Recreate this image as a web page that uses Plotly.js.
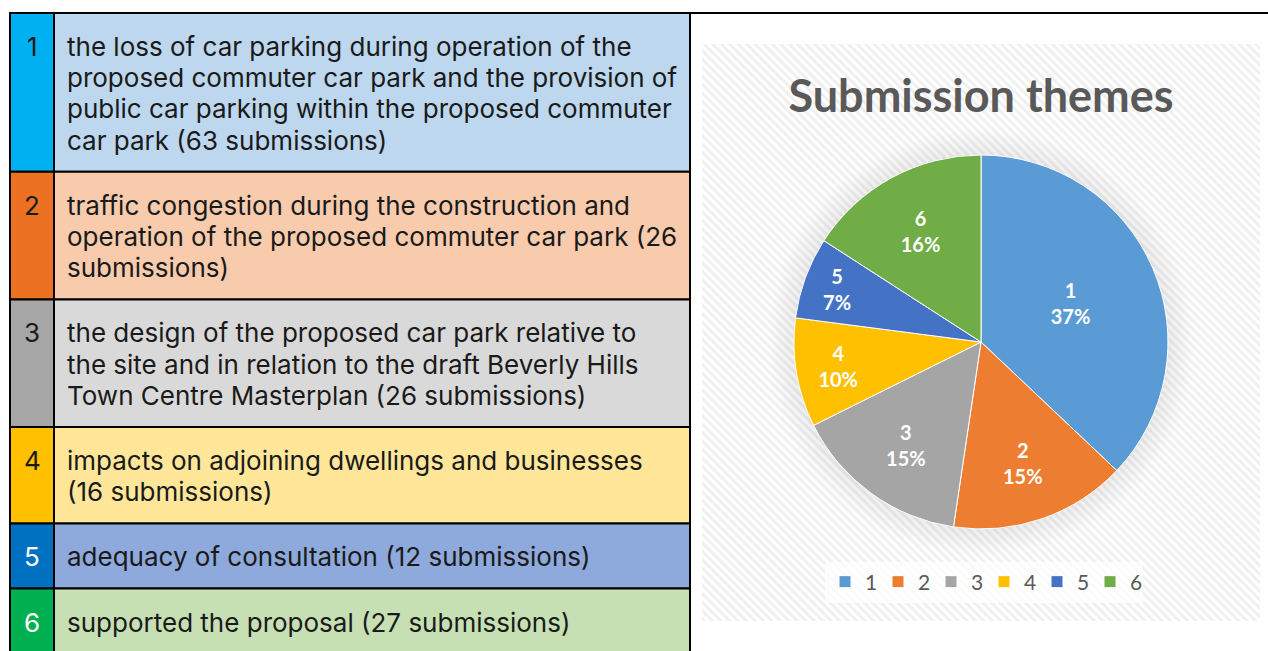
<!DOCTYPE html>
<html><head><meta charset="utf-8">
<script src="https://cdn.plot.ly/plotly-3.0.1.min.js"></script>
<style>html,body{margin:0;padding:0;background:#fff;} #chart{width:1268px;height:651px;}</style>
</head><body><div id="chart"></div>
<script>
// ---- data ----
const themeNumbers = ['1', '2', '3', '4', '5', '6'];
const themeTexts = [
  'the loss of car parking during operation of the<br>proposed commuter car park and the provision of<br>public car parking within the proposed commuter<br>car park (63 submissions)',
  'traffic congestion during the construction and<br>operation of the proposed commuter car park (26<br>submissions)',
  'the design of the proposed car park relative to<br>the site and in relation to the draft Beverly Hills<br>Town Centre Masterplan (26 submissions)',
  'impacts on adjoining dwellings and businesses<br>(16 submissions)',
  'adequacy of consultation (12 submissions)',
  'supported the proposal (27 submissions)'
];
const submissionCounts = [63, 26, 26, 16, 12, 27];
const percentLabels = ['37%', '15%', '15%', '10%', '7%', '16%'];
const chartTitle = 'Submission themes';

// ---- styles ----
const numberFill = ['#00B0F0', '#EC7122', '#A6A6A6', '#FFC000', '#0070C0', '#00B050'];
const textFill = ['#BDD7EE', '#F8CBAD', '#D9D9D9', '#FFE699', '#8EA9DB', '#C6E0B4'];
const numberFontColor = ['#1a1a1a', '#1a1a1a', '#1a1a1a', '#1a1a1a', '#ffffff', '#ffffff'];
const pieColors = ['#5B9BD5', '#ED7D31', '#A5A5A5', '#FFC000', '#4472C4', '#70AD47'];

const W = 1268, H = 651;
const px = v => v / W, py = v => 1 - v / H;

// table geometry (style constants)
const TABLE_LEFT = 10, TABLE_TOP = 13, NUM_COL_W = 44, TEXT_COL_W = 636;
const FONT_SIZE = 26, LINE_H = 31.2, PAD_V = 34, TEXT_INSET = 12, TEXT_TOP = 17;
const TABLE_FONT = 'Inter, Roboto, sans-serif';

const shapes = [];
const annotations = [];
let rowTop = TABLE_TOP;
themeTexts.forEach((txt, i) => {
  const lines = txt.split('<br>');
  const rowH = lines.length * LINE_H + PAD_V;
  const x0 = TABLE_LEFT, x1 = TABLE_LEFT + NUM_COL_W, x2 = x1 + TEXT_COL_W;
  shapes.push({ type: 'rect', xref: 'paper', yref: 'paper', x0: px(x0), x1: px(x1), y0: py(rowTop), y1: py(rowTop + rowH),
    fillcolor: numberFill[i], line: { color: '#000', width: 2 }, layer: 'below' });
  shapes.push({ type: 'rect', xref: 'paper', yref: 'paper', x0: px(x1), x1: px(x2), y0: py(rowTop), y1: py(rowTop + rowH),
    fillcolor: textFill[i], line: { color: '#000', width: 2 }, layer: 'below' });
  annotations.push({ xref: 'paper', yref: 'paper', x: px(x0 + NUM_COL_W / 2), y: py(rowTop + TEXT_TOP),
    xanchor: 'center', yanchor: 'top', text: themeNumbers[i], showarrow: false, borderpad: 0,
    font: { family: TABLE_FONT, size: FONT_SIZE, color: numberFontColor[i] } });
  lines.forEach((ln, k) => {
    annotations.push({ xref: 'paper', yref: 'paper', x: px(x1 + TEXT_INSET), y: py(rowTop + TEXT_TOP + k * LINE_H),
      xanchor: 'left', yanchor: 'top', align: 'left', text: ln, showarrow: false, borderpad: 0,
      font: { family: TABLE_FONT, size: FONT_SIZE, color: '#1a1a1a' } });
  });
  rowTop += rowH;
});
// top border of chart panel
shapes.push({ type: 'line', xref: 'paper', yref: 'paper', x0: px(TABLE_LEFT + NUM_COL_W + TEXT_COL_W), x1: 1,
  y0: py(TABLE_TOP), y1: py(TABLE_TOP), line: { color: '#000000', width: 2 } });

const bgSvg = "<svg xmlns='http://www.w3.org/2000/svg' width='558' height='577'>" +
  "<defs><pattern id='p' width='6' height='6' patternUnits='userSpaceOnUse' patternTransform='rotate(-45)'>" +
  "<rect width='6' height='6' fill='#ffffff'/><rect width='3' height='6' fill='#f0f0f0'/></pattern>" +
  "<radialGradient id='g' cx='279' cy='298' r='214' gradientUnits='userSpaceOnUse'>" +
  "<stop offset='0.8' stop-color='#000' stop-opacity='0.11'/><stop offset='1' stop-color='#000' stop-opacity='0'/></radialGradient></defs>" +
  "<rect width='558' height='577' fill='url(#p)'/><circle cx='279' cy='298' r='214' fill='url(#g)'/></svg>";

const pieTrace = {
  type: 'pie',
  values: submissionCounts,
  labels: themeNumbers,
  text: percentLabels,
  texttemplate: '%{label}<br>%{text}',
  textposition: 'inside',
  insidetextorientation: 'horizontal',
  sort: false,
  direction: 'clockwise',
  rotation: 0,
  marker: { colors: pieColors, line: { color: '#ffffff', width: 1 } },
  textfont: { family: 'Lato', size: 20, color: '#ffffff', weight: 'bold' },
  domain: { x: [px(794), px(1168)], y: [py(529), py(155)] },
  hoverinfo: 'label+value+percent'
};

const layout = {
  width: W, height: H,
  margin: { l: 0, r: 0, t: 0, b: 0 },
  paper_bgcolor: '#ffffff',
  showlegend: true,
  title: {
    text: chartTitle,
    font: { family: 'Lato', size: 45, color: '#595959', weight: 'bold' },
    x: px(981), xanchor: 'center', xref: 'paper',
    y: py(96), yanchor: 'middle', yref: 'paper'
  },
  legend: {
    orientation: 'h', x: px(984), xanchor: 'center', y: py(582), yanchor: 'middle',
    font: { family: 'Lato', size: 21, color: '#595959' },
    bgcolor: 'rgba(255,255,255,0.7)', traceorder: 'normal', entrywidth: 8
  },
  images: [{
    source: 'data:image/svg+xml;charset=utf-8,' + encodeURIComponent(bgSvg),
    xref: 'paper', yref: 'paper', x: px(702), y: py(44), sizex: 558 / W, sizey: 577 / H,
    xanchor: 'left', yanchor: 'top', sizing: 'stretch', layer: 'below'
  }],
  shapes: shapes,
  annotations: annotations
};

Plotly.newPlot('chart', [pieTrace], layout, { displayModeBar: false });
</script>
</body></html>
